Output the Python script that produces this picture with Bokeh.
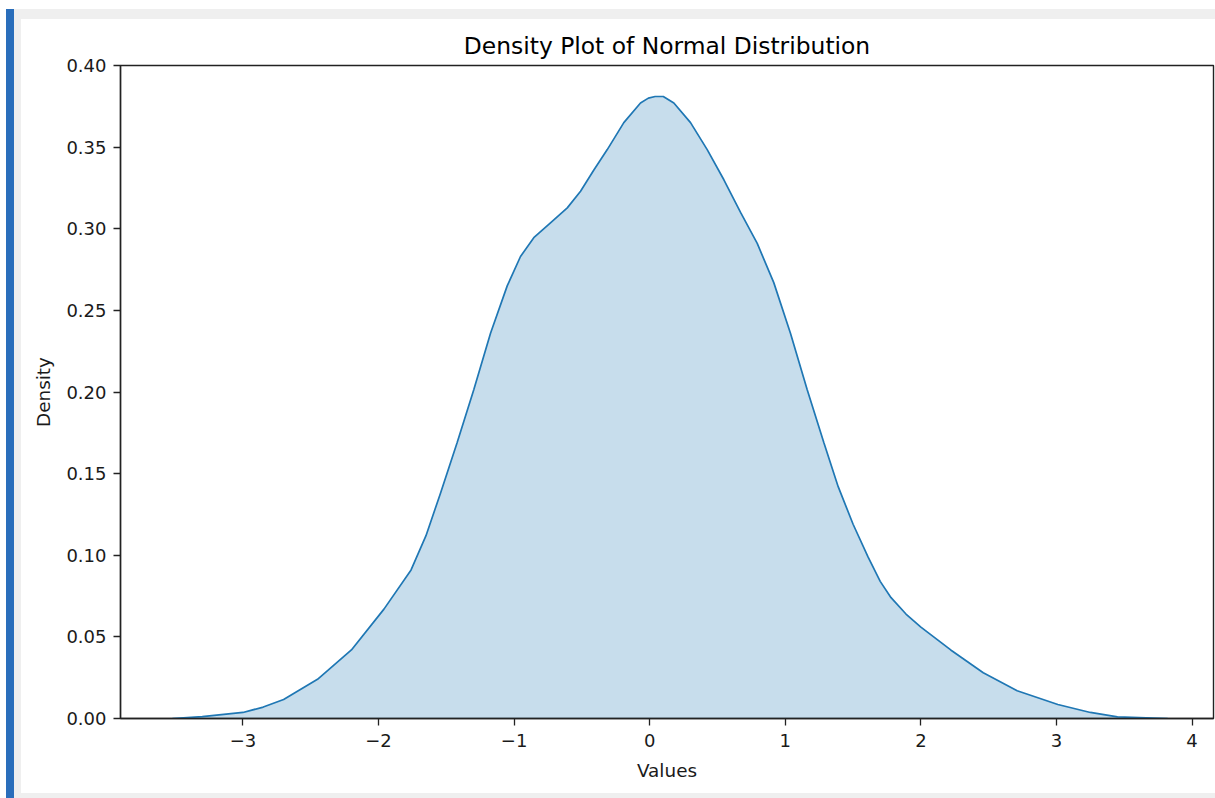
from bokeh.plotting import figure
from bokeh.models import Div, Range1d, FixedTicker
from bokeh.layouts import row, column
from bokeh.embed import file_html
from bokeh.resources import INLINE

# ---- data ----
kde_x = [-3.52, -3.30, -3.00, -2.85, -2.70, -2.45, -2.20, -1.96, -1.76, -1.65,
         -1.543, -1.42, -1.297, -1.174, -1.051, -0.953, -0.855, -0.732, -0.608, -0.510,
         -0.412, -0.313, -0.191, -0.068, -0.01, 0.04, 0.10, 0.178, 0.301, 0.424,
         0.547, 0.670, 0.793, 0.915, 1.038, 1.161, 1.284, 1.39, 1.50, 1.61,
         1.70, 1.78, 1.89, 2.00, 2.22, 2.46, 2.71, 3.01, 3.25, 3.45, 3.82]
kde_y = [0.0, 0.0012, 0.0037, 0.007, 0.0116, 0.024, 0.042, 0.067, 0.091, 0.112,
         0.138, 0.169, 0.2015, 0.236, 0.265, 0.283, 0.2945, 0.3036, 0.3128, 0.323,
         0.336, 0.3485, 0.365, 0.377, 0.380, 0.381, 0.381, 0.377, 0.365, 0.3485,
         0.330, 0.310, 0.291, 0.267, 0.236, 0.2015, 0.169, 0.142, 0.119, 0.099,
         0.084, 0.074, 0.064, 0.056, 0.042, 0.028, 0.017, 0.0086, 0.0037, 0.001, 0.0]

x_ticks = [-3, -2, -1, 0, 1, 2, 3, 4]
x_tick_labels = ["\u22123", "\u22122", "\u22121", "0", "1", "2", "3", "4"]
y_ticks = [0.0, 0.05, 0.10, 0.15, 0.20, 0.25, 0.30, 0.35, 0.40]
y_tick_labels = ["0.00", "0.05", "0.10", "0.15", "0.20", "0.25", "0.30", "0.35", "0.40"]

title_text = "Density Plot of Normal Distribution"
x_label = "Values"
y_label = "Density"

FONT = "DejaVu Sans"
BLUE = "#1f77b4"

p = figure(width=1194, height=774, output_backend="svg", toolbar_location=None,
           x_range=Range1d(-3.903, 4.158), y_range=Range1d(0, 0.4),
           min_border_left=99, min_border_right=2, min_border_top=46,
           min_border_bottom=75, margin=0)
p.title.text = title_text
p.title.text_font = FONT
p.title.text_font_size = "23.4px"
p.title.text_font_style = "normal"
p.title.text_color = "#000000"
p.title.align = "center"
p.title.standoff = 11

p.varea(x=kde_x, y1=0, y2=kde_y, fill_color=BLUE, fill_alpha=0.25)
p.line(x=kde_x, y=kde_y, line_color=BLUE, line_width=1.7)

p.xgrid.visible = False
p.ygrid.visible = False
p.background_fill_color = "white"
p.border_fill_color = "white"
p.outline_line_color = "#222222"
p.outline_line_width = 1.4

p.xaxis.ticker = FixedTicker(ticks=x_ticks)
p.xaxis.major_label_overrides = {t: l for t, l in zip(x_ticks, x_tick_labels)}
p.yaxis.ticker = FixedTicker(ticks=y_ticks)
p.yaxis.major_label_overrides = {t: l for t, l in zip(y_ticks, y_tick_labels)}

for ax in (p.xaxis[0], p.yaxis[0]):
    ax.axis_line_color = "#222222"
    ax.axis_line_width = 1.4
    ax.major_tick_line_color = "#222222"
    ax.major_tick_line_width = 1.3
    ax.major_tick_out = 7
    ax.major_tick_in = 0
    ax.minor_tick_out = 0
    ax.minor_tick_in = 0
    ax.major_label_text_font = FONT
    ax.major_label_text_font_size = "18px"
    ax.major_label_text_color = "#1a1a1a"
    ax.axis_label_text_font = FONT
    ax.axis_label_text_font_size = "18.4px"
    ax.axis_label_text_font_style = "normal"
    ax.axis_label_text_color = "#1a1a1a"

p.xaxis.axis_label = x_label
p.yaxis.axis_label = y_label
p.xaxis.major_label_standoff = 8
p.xaxis.axis_label_standoff = 10
p.yaxis.major_label_standoff = 7
p.yaxis.axis_label_standoff = 9

GRAY = "#efefef"
blue_bar = Div(width=8, height=789, margin=0, styles={"background-color": "#2a6ebb"})
gray_top = Div(width=1201, height=10, margin=0, styles={"background-color": GRAY})
gray_left = Div(width=7, height=774, margin=0, styles={"background-color": GRAY})
gray_bottom = Div(width=1201, height=5, margin=0, styles={"background-color": GRAY})

layout = row(blue_bar,
             column(gray_top, row(gray_left, p, spacing=0, margin=0), gray_bottom,
                    spacing=0, margin=0),
             spacing=0, margin=(9, 0, 0, 6))

open("out.html", "w").write(file_html(layout, INLINE))
